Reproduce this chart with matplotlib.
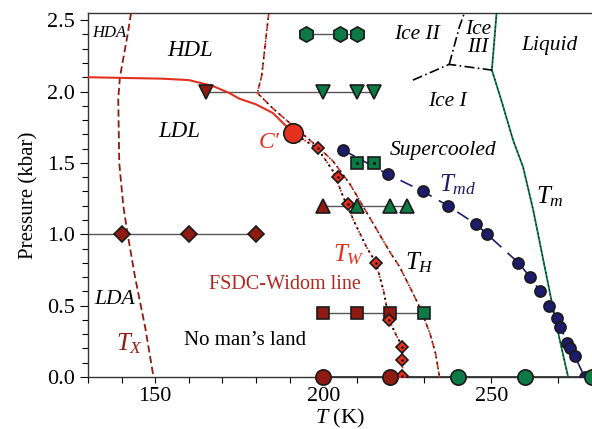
import matplotlib
matplotlib.use("Agg")
import matplotlib.pyplot as plt
from matplotlib.ticker import MultipleLocator

plt.rcParams['font.family'] = ['Liberation Serif', 'DejaVu Serif']
plt.rcParams['mathtext.fontset'] = 'custom'
plt.rcParams['mathtext.rm'] = 'Liberation Serif'
plt.rcParams['mathtext.it'] = 'Liberation Serif:italic'

# ---------------- data ----------------
# first-order LL transition line (solid red) ending at C'
llt_T = [130, 152, 160, 167, 172, 175, 180, 185, 191]
llt_P = [2.10, 2.09, 2.08, 2.04, 1.99, 1.95, 1.91, 1.85, 1.71]
cprime_T = [191]
cprime_P = [1.71]

# T_X (crystallization) line
tx_T = [142.8, 141.8, 139.5, 139.0, 139.3, 140.5, 141.8, 144.0, 147.0, 149.5]
tx_P = [2.55, 2.40, 2.10, 1.95, 1.50, 1.20, 1.00, 0.70, 0.35, 0.00]

# HDL limit / T_H line
th_T = [183.8, 181.7, 180.4, 185.1, 190.0, 195.0, 199.0, 203.0, 208.0, 212.0,
        216.0, 220.0, 222.8, 226.0, 228.7, 231.7, 233.5, 234.6]
th_P = [2.55, 2.11, 1.99, 1.88, 1.78, 1.68, 1.60, 1.51, 1.35, 1.19,
        1.03, 0.87, 0.77, 0.62, 0.49, 0.31, 0.16, 0.00]

# Widom line T_W (dotted) and its diamonds
tw_T = [191.0, 198.4, 203.0, 206.0, 209.4, 212.9, 215.7, 218.0, 219.6, 221.8, 223.6, 223.6]
tw_P = [1.71, 1.60, 1.44, 1.26, 1.08, 0.91, 0.80, 0.60, 0.40, 0.29, 0.21, 0.00]
twd_T = [198.4, 204.5, 207.4, 215.7, 219.6, 223.6, 223.6, 223.6]
twd_P = [1.605, 1.40, 1.21, 0.80, 0.40, 0.21, 0.12, 0.01]

# Temperature of maximum density
tmd_T = [205.9, 219.3, 229.7, 237.1, 245.5, 248.8, 258.1, 261.6, 264.6, 267.3,
         269.6, 270.6, 272.6, 273.6, 274.8, 277.8]
tmd_P = [1.59, 1.42, 1.30, 1.20, 1.07, 1.00, 0.80, 0.70, 0.60, 0.50,
         0.41, 0.35, 0.24, 0.20, 0.15, 0.00]

# Melting line T_m
tm_T = [251.6, 250.2, 253.0, 256.5, 259.5, 262.5, 264.9, 267.9, 270.4, 272.9]
tm_P = [2.55, 2.15, 1.94, 1.66, 1.47, 1.17, 0.89, 0.54, 0.26, 0.00]

# ice boundaries
ice13_T = [226.7, 237.5, 250.2]
ice13_P = [2.08, 2.19, 2.15]
ice23_T = [237.5, 239.0, 240.5, 242.0]
ice23_P = [2.19, 2.32, 2.45, 2.55]

# isobar measurement points
hex_T = [195, 205, 210]; hex_P = 2.4
tri2_red_T = [165]; tri2_green_T = [200, 210, 215]; tri2_P = 2.0
sq15_green_T = [210, 215]; sq15_P = 1.5
tri12_red_T = [200]; tri12_green_T = [210, 220, 225]; tri12_P = 1.2
dia10_red_T = [140, 160, 180]; dia10_P = 1.0
sq045_red_T = [200, 210, 220]; sq045_green_T = [230]; sq045_P = 0.45
c0_red_T = [200, 220]; c0_green_T = [240, 260, 280]; c0_P = 0.0

RED = '#e3301f'
DRED = '#8f1a12'
GREEN = '#0d7a45'
NAVY = '#1d1b6b'
GRAY = '#555555'

fig = plt.figure(figsize=(5.92, 4.29), dpi=100)
ax = fig.add_axes([88/592, 52/429, 1 - 88/592, (377 - 13)/429])
ax.set_xlim(130, 280)
ax.set_ylim(0, 2.55)

# isobar connecting lines
ax.plot([min(hex_T), max(hex_T)], [hex_P]*2, color=GRAY, lw=1, zorder=2)
ax.plot([165, 215], [tri2_P]*2, color=GRAY, lw=1, zorder=2)
ax.plot([200, 225], [tri12_P]*2, color=GRAY, lw=1, zorder=2)
ax.plot([130, 180], [dia10_P]*2, color=GRAY, lw=1, zorder=2)
ax.plot([200, 230], [sq045_P]*2, color=GRAY, lw=1, zorder=2)
ax.plot([200, 280], [c0_P]*2, color='#222222', lw=1.2, zorder=2)

# lines
ax.plot(tx_T, tx_P, color=DRED, lw=1.3, ls=(0, (4, 2)), zorder=3)
ax.plot(llt_T, llt_P, color=RED, lw=1.5, zorder=3)
ax.plot(th_T, th_P, color=RED, lw=1.2, ls=(0, (4, 2)), zorder=3)
ax.plot(th_T, th_P, color='black', lw=1.0, ls=(0, (1, 3)), zorder=3)
ax.plot(tw_T, tw_P, color=RED, lw=1.3, ls=(0, (1, 1.5)), zorder=3)
ax.plot(tw_T, tw_P, color='black', lw=1.3, ls=(1, (1, 2.5)), zorder=3)
ax.plot(tmd_T, tmd_P, color=NAVY, lw=1.2, ls=(0, (8, 5)), zorder=3)
ax.plot(tm_T, tm_P, color=GREEN, lw=1.3, zorder=3)
ax.plot(tm_T, tm_P, color='black', lw=0.8, ls=(0, (1, 3)), zorder=3)
ax.plot(ice13_T, ice13_P, color='black', lw=1.2, ls=(0, (6, 2, 1, 2)), zorder=3)
ax.plot(ice23_T, ice23_P, color='black', lw=1.2, ls=(0, (6, 2, 1, 2)), zorder=3)

mk = dict(ls='none', markeredgecolor='#1a1a1a', markeredgewidth=1.2, zorder=5)
ax.plot(hex_T, [hex_P]*len(hex_T), marker='h', ms=11, color=GREEN, **mk)
ax.plot(tri2_red_T, [tri2_P], marker='v', ms=10, color=DRED, **mk)
ax.plot(tri2_green_T, [tri2_P]*3, marker='v', ms=10, color=GREEN, **mk)
ax.plot(sq15_green_T, [sq15_P]*2, marker='s', ms=9, color=GREEN, **mk)
ax.plot(sq15_green_T, [sq15_P]*2, marker='.', ms=2, color='black', ls='none', zorder=6)
ax.plot(tri12_red_T, [tri12_P], marker='^', ms=10, color=DRED, **mk)
ax.plot(tri12_green_T, [tri12_P]*3, marker='^', ms=10, color=GREEN, **mk)
ax.plot(dia10_red_T, [dia10_P]*3, marker='D', ms=8.5, color=DRED, **mk)
ax.plot(sq045_red_T, [sq045_P]*3, marker='s', ms=9, color=DRED, **mk)
ax.plot(sq045_green_T, [sq045_P], marker='s', ms=9, color=GREEN, **mk)
ax.plot(twd_T, twd_P, marker='D', ms=6.5, color=RED, **mk)
ax.plot(twd_T, twd_P, marker='.', ms=1.5, color='black', ls='none', zorder=6)
ax.plot(tmd_T, tmd_P, marker='o', ms=8, color=NAVY, **mk)
ax.plot(c0_red_T, [c0_P]*2, marker='o', ms=11, color=DRED, clip_on=False, **mk)
ax.plot(c0_green_T, [c0_P]*3, marker='o', ms=11, color=GREEN, clip_on=False, **mk)
ax.plot(cprime_T, cprime_P, marker='o', ms=14, color=RED, **mk)

# texts
it = dict(style='italic', ha='center', va='center')
ax.text(136.3, 2.41, 'HDA', fontsize=12, **it)
ax.text(160.4, 2.29, 'HDL', fontsize=16.5, **it)
ax.text(157.3, 1.72, 'LDL', fontsize=16.5, **it)
ax.text(183.8, 1.64, "C\u2032", fontsize=17, color=RED, **it)
ax.text(228, 2.40, 'Ice II', fontsize=15.5, **it)
ax.text(246, 2.37, 'Ice\nIII', fontsize=15.5, linespacing=0.95, **it)
ax.text(267.3, 2.32, 'Liquid', fontsize=15.5, **it)
ax.text(237, 1.93, 'Ice I', fontsize=15.5, **it)
ax.text(235.8, 1.59, 'Supercooled', fontsize=15.5, **it)
ax.text(240, 1.35, '$T_{md}$', fontsize=18, color=NAVY, ha='center', va='center')
ax.text(267.6, 1.26, '$T_m$', fontsize=18, ha='center', va='center')
ax.text(207.6, 0.86, '$T_W$', fontsize=18, color=RED, ha='center', va='center')
ax.text(228.6, 0.80, '$T_H$', fontsize=18, ha='center', va='center')
ax.text(188.5, 0.65, 'FSDC-Widom line', fontsize=14.5, color='#b3261e', ha='center', va='center')
ax.text(137.8, 0.54, 'LDA', fontsize=15.5, **it)
ax.text(142.5, 0.23, '$T_X$', fontsize=18, color=DRED, ha='center', va='center')
ax.text(176.8, 0.255, 'No man\u2019s land', fontsize=15, ha='center', va='center')

ax.set_xlabel('$T$ (K)', fontsize=16, labelpad=1)
ax.set_ylabel('Pressure (kbar)', fontsize=15, labelpad=6)

ax.xaxis.set_major_locator(MultipleLocator(50))
ax.xaxis.set_minor_locator(MultipleLocator(10))
ax.yaxis.set_major_locator(MultipleLocator(0.5))
ax.yaxis.set_minor_locator(MultipleLocator(0.1))
ax.set_yticklabels([f'{v:.1f}' for v in ax.get_yticks()])
ax.tick_params(axis='both', which='major', labelsize=16, length=6, width=0.8, direction='out')
ax.tick_params(axis='both', which='minor', length=4, width=0.8, direction='out')
ax.tick_params(axis='x', which='major', length=4, pad=3)
ax.spines['right'].set_visible(False)
for s in ['left', 'bottom', 'top']:
    ax.spines[s].set_linewidth(1.0)
    ax.spines[s].set_color('#333333')

fig.savefig('out.png', dpi=100)
